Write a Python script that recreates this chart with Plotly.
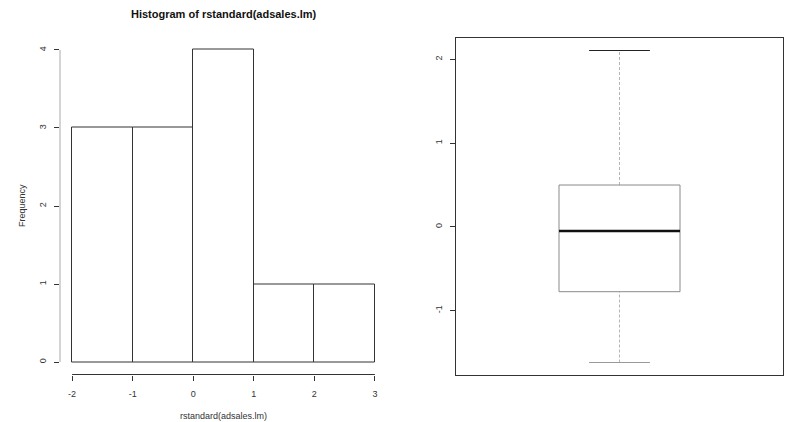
import plotly.graph_objects as go

# Histogram data
bin_edges = [-2, -1, 0, 1, 2, 3]
counts = [3, 3, 4, 1, 1]
hist_xticks = [-2, -1, 0, 1, 2, 3]
hist_xticktext = ["-2", "-1", "0", "1", "2", "3"]
hist_yticks = [0, 1, 2, 3, 4]

# Boxplot statistics (lower whisker, Q1, median, Q3, upper whisker)
box_lower = -1.62
box_q1 = -0.774
box_median = -0.048
box_q3 = 0.50
box_upper = 2.107
box_yticks = [-1, 0, 1, 2]
box_yticktext = ["-1", "0", "1", "2"]

centers = [(a + b) / 2 for a, b in zip(bin_edges[:-1], bin_edges[1:])]

FONT = "Liberation Sans, Arial, sans-serif"
LINE = "#333333"

fig = go.Figure()

fig.add_trace(go.Bar(
    x=centers, y=counts, width=1,
    marker=dict(color="white", line=dict(color=LINE, width=1)),
    xaxis="x", yaxis="y", showlegend=False, hoverinfo="skip"))

pos = 1.0
hw = 0.185
cw = 0.093
grey = "#b5b5b5"
# whiskers (dashed)
fig.add_trace(go.Scatter(x=[pos, pos], y=[box_q3, box_upper], mode="lines",
                         line=dict(color=grey, width=1, dash="3px,2px"),
                         xaxis="x2", yaxis="y2", showlegend=False))
fig.add_trace(go.Scatter(x=[pos, pos], y=[box_lower, box_q1], mode="lines",
                         line=dict(color=grey, width=1, dash="3px,2px"),
                         xaxis="x2", yaxis="y2", showlegend=False))
# caps
fig.add_trace(go.Scatter(x=[pos - cw, pos + cw], y=[box_upper, box_upper], mode="lines",
                         line=dict(color="#222222", width=1.2),
                         xaxis="x2", yaxis="y2", showlegend=False))
fig.add_trace(go.Scatter(x=[pos - cw, pos + cw], y=[box_lower, box_lower], mode="lines",
                         line=dict(color="#999999", width=1.2),
                         xaxis="x2", yaxis="y2", showlegend=False))
# box
fig.add_trace(go.Scatter(x=[pos - hw, pos + hw, pos + hw, pos - hw, pos - hw],
                         y=[box_q1, box_q1, box_q3, box_q3, box_q1], mode="lines",
                         line=dict(color="#8a8a8a", width=1),
                         xaxis="x2", yaxis="y2", showlegend=False))
# median
fig.add_trace(go.Scatter(x=[pos - hw, pos + hw], y=[box_median, box_median], mode="lines",
                         line=dict(color="#111111", width=2.5),
                         xaxis="x2", yaxis="y2", showlegend=False))

lo, hi = box_lower, box_upper
pad = (hi - lo) * 0.04
xpad = (bin_edges[-1] - bin_edges[0]) * 0.04
ypad = max(counts) * 0.04

tickfont = dict(family=FONT, size=9, color="#333333")

fig.update_layout(
    width=785, height=422,
    margin=dict(l=0, r=0, t=0, b=0),
    plot_bgcolor="white", paper_bgcolor="white",
    font=dict(family=FONT, size=9, color="#333333"),
    bargap=0,
    xaxis=dict(domain=[60 / 785, 387 / 785], anchor="y",
               range=[bin_edges[0] - xpad, bin_edges[-1] + xpad],
               tickmode="array", tickvals=hist_xticks, ticktext=hist_xticktext,
               ticks="outside", ticklen=5, tickcolor=LINE,
               showgrid=False, zeroline=False, showline=False,
               tickfont=tickfont, ticklabelstandoff=6),
    yaxis=dict(domain=[1 - 374.5 / 422, 1 - 37.5 / 422], anchor="x",
               range=[-ypad, max(counts) + ypad],
               tickmode="array", tickvals=hist_yticks,
               ticks="outside", ticklen=5, tickcolor=LINE, tickangle=-90,
               showgrid=False, zeroline=False, showline=False,
               tickfont=tickfont, ticklabelstandoff=4),
    xaxis2=dict(domain=[456 / 785, 783 / 785], anchor="y2",
                range=[0.5, 1.5], showticklabels=False, ticks="",
                showgrid=False, zeroline=False,
                showline=True, mirror=True, linecolor=LINE, linewidth=1),
    yaxis2=dict(domain=[1 - 375 / 422, 1 - 38 / 422], anchor="x2",
                range=[lo - pad, hi + pad],
                tickmode="array", tickvals=box_yticks, ticktext=box_yticktext,
                ticks="outside", ticklen=5, tickcolor=LINE, tickangle=-90,
                showgrid=False, zeroline=False,
                showline=True, mirror=True, linecolor=LINE, linewidth=1,
                tickfont=tickfont, ticklabelstandoff=4),
    shapes=[
        dict(type="line", xref="x", yref="y domain",
             x0=hist_xticks[0], x1=hist_xticks[-1], y0=0, y1=0,
             line=dict(color=LINE, width=1)),
        dict(type="line", xref="x domain", yref="y",
             x0=0, x1=0, y0=hist_yticks[0], y1=hist_yticks[-1],
             line=dict(color="#aaaaaa", width=1)),
    ],
    annotations=[
        dict(text="<b>Histogram of rstandard(adsales.lm)</b>", xref="paper", yref="paper",
             x=223.5 / 785, y=1 - 14 / 422, showarrow=False,
             font=dict(family=FONT, size=11, color="#111111"),
             xanchor="center", yanchor="middle"),
        dict(text="rstandard(adsales.lm)", xref="paper", yref="paper",
             x=223.5 / 785, y=1 - 416 / 422, showarrow=False,
             font=dict(family=FONT, size=9, color="#333333"),
             xanchor="center", yanchor="middle"),
        dict(text="Frequency", xref="paper", yref="paper",
             x=22 / 785, y=1 - 206 / 422, showarrow=False, textangle=-90,
             font=dict(family=FONT, size=9, color="#333333"),
             xanchor="center", yanchor="middle"),
    ],
)

fig.write_html("out.html", config={"displayModeBar": False},
               post_script="document.body.style.margin='0';document.body.style.overflow='hidden';")
